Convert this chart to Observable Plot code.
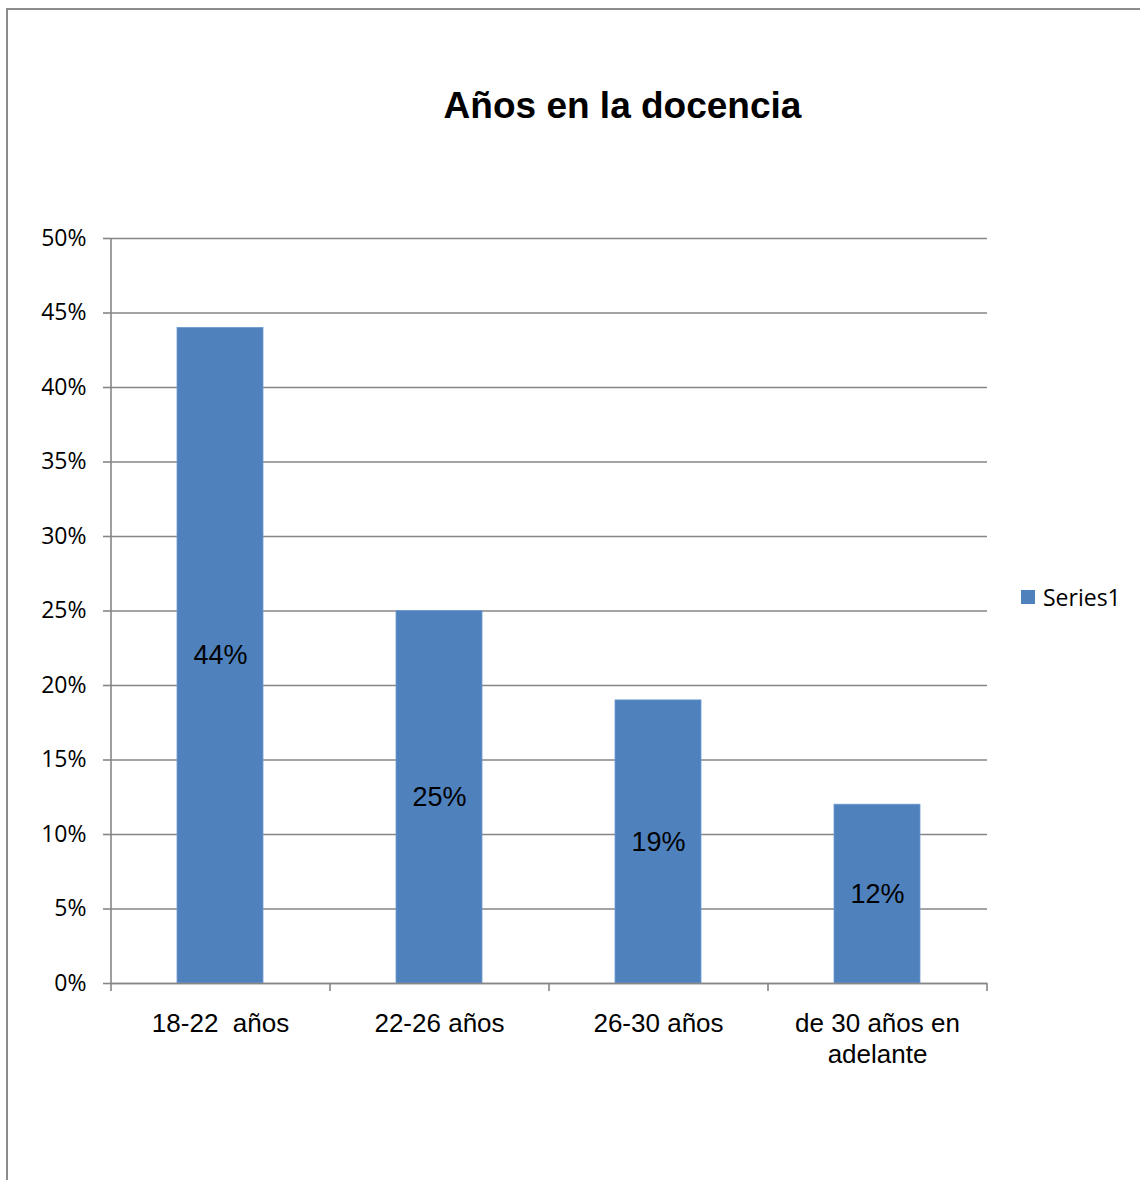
<!DOCTYPE html>
<html>
<head>
<meta charset="utf-8">
<script src="https://cdn.jsdelivr.net/npm/d3@7"></script>
<script src="https://cdn.jsdelivr.net/npm/@observablehq/plot@0.6"></script>
<style>
  body { margin: 0; background: #fff; }
  #wrap { position: relative; width: 1140px; height: 1180px; overflow: hidden; }
  #chart { position: absolute; left: 0; top: 0; }
  #frame { position: absolute; left: 6px; top: 8px; width: 1132px; height: 1200px;
           border-left: 2px solid #8c8c8c; border-top: 2px solid #8c8c8c; border-right: 2px solid #8c8c8c; pointer-events: none; }
  #title { position: absolute; left: 0; top: 85px; width: 1245px; text-align: center; line-height: 1;
           font: bold 37px "Liberation Sans", Arial, sans-serif; color: #000; }
  #legend { position: absolute; left: 1021px; top: 581px; display: flex; align-items: center;
            font: 23px "Open Sans", sans-serif; color: #000; }
  #legend .sw { width: 14px; height: 14px; background: #4F81BD; margin-right: 8px; }
</style>
</head>
<body>
<div id="wrap">
  <div id="chart"></div>
  <div id="frame"></div>
  <div id="title">Años en la docencia</div>
  <div id="legend"><div class="sw"></div><span>Series1</span></div>
</div>
<script>
const categories = ["18-22\u00a0 años", "22-26 años", "26-30 años", "de 30 años en\nadelante"];
const values = [0.44, 0.25, 0.19, 0.12];
const yTicks = [0, 0.05, 0.10, 0.15, 0.20, 0.25, 0.30, 0.35, 0.40, 0.45, 0.50];
const seriesName = "Series1";

const data = categories.map((c, i) => ({category: c, value: values[i]}));

const W = 1140, H = 1180;
const mL = 111, mR = 153, mT = 238, mB = 197;
const step = (W - mL - mR) / categories.length;
const axisColor = "#868686";
const barColor = "#4F81BD";
const fmt = d3.format(".0%");

const plot = Plot.plot({
  width: W,
  height: H,
  marginLeft: mL,
  marginRight: mR,
  marginTop: mT,
  marginBottom: mB,
  style: {background: "transparent", color: "#000"},
  x: {domain: categories, paddingInner: 0.607, paddingOuter: 0.3035, align: 0.5, label: null},
  y: {domain: [0, 0.5], label: null},
  marks: [
    Plot.gridY(yTicks, {stroke: axisColor, strokeOpacity: 1, strokeWidth: 1.3}),
    Plot.barY(data, {x: "category", y: "value", fill: barColor, stroke: "#6f9ad0", strokeWidth: 0.8}),
    // vertical axis line
    Plot.ruleX([categories[0]], {x: d => d, dx: -step / 2, stroke: axisColor, strokeWidth: 1.6}),
    Plot.ruleY([0], {stroke: axisColor, strokeWidth: 1.6}),
    // x tick marks at band boundaries
    Plot.ruleX(categories, {x: d => d, dx: -step / 2, y1: 0, y2: 0, insetBottom: -8, insetTop: 0, stroke: axisColor, strokeWidth: 1.6}),
    Plot.ruleX([categories[categories.length - 1]], {x: d => d, dx: step / 2, y1: 0, y2: 0, insetBottom: -8, insetTop: 0, stroke: axisColor, strokeWidth: 1.6}),
    Plot.axisY(yTicks, {
      tickFormat: fmt, tickSize: 8, tickPadding: 17, stroke: axisColor, strokeWidth: 1.6,
      fontSize: 23, fontFamily: "Open Sans", fill: "#000", label: null
    }),
    Plot.axisX({
      tickSize: 0, tickPadding: 27, fontSize: 26, fontFamily: "Liberation Sans",
      lineHeight: 1.19, fill: "#000", label: null
    }),
    Plot.text(data, {
      x: "category", y: d => d.value / 2, text: d => fmt(d.value),
      fontSize: 27, fontFamily: "Liberation Sans", fill: "#000"
    })
  ]
});

document.getElementById("chart").appendChild(plot);
</script>
</body>
</html>
